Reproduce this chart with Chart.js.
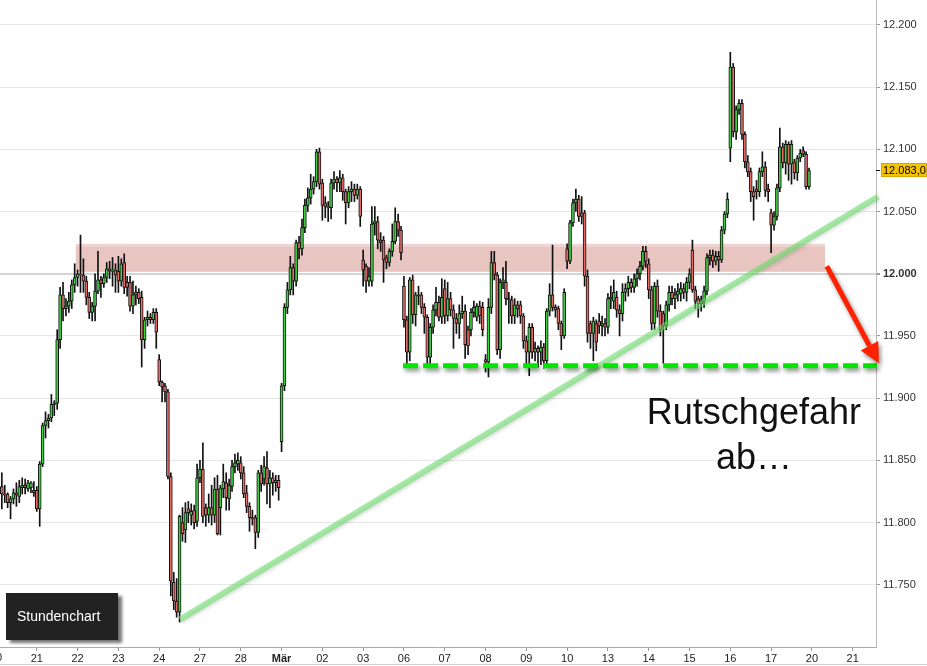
<!DOCTYPE html>
<html><head><meta charset="utf-8">
<script src="https://cdn.jsdelivr.net/npm/chart.js@4.4.1/dist/chart.umd.min.js"></script>
<style>html,body{margin:0;padding:0;background:#fff;}canvas{display:block;}</style>
</head><body>
<canvas id="c" width="927" height="666"></canvas>
<script>
// ---- tick labels (one per trading day, 14 hourly slots per day) ----
const dayLabels = ['20','21','22','23','24','27','28','Mär','02','03','06','07','08','09','10','13','14','15','16','17','20','21'];
const yTicks = [11750,11800,11850,11900,11950,12000,12050,12100,12150,12200];
const slotsPerDay = 14;
const firstDayStartSlot = 2;
const lastPrice = 12083;

// ---- hourly candles [open, high, low, close] per day ----
const feb20 = [[11829,11840,11811,11823],[11823,11830,11816,11822],[11823,11824,11812,11816],[11816,11821,11803,11819],[11819,11827,11815,11824],[11824,11832,11813,11822],[11821,11834,11816,11829],[11828,11836,11823,11830],[11830,11835,11823,11828],[11827,11834,11825,11832],[11828,11833,11824,11832],[11826,11833,11821,11824]];
const feb21 = [[11826,11829,11809,11811],[11811,11849,11797,11847],[11847,11880,11845,11878],[11878,11889,11868,11882],[11882,11887,11876,11884],[11884,11903,11881,11895],[11895,11898,11886,11896],[11896,11955,11891,11947],[11947,11989,11940,11983],[11983,11993,11962,11972],[11972,11980,11966,11974],[11974,11985,11969,11978],[11978,11995,11972,11991],[11991,12008,11985,11997]];
const feb22 = [[11997,12003,11990,12000],[12000,12031,11985,11999],[11999,12012,11985,11994],[11994,11998,11975,11981],[11981,11985,11964,11969],[11969,11977,11962,11974],[11974,12000,11962,11986],[11986,12018,11984,11995],[11995,11998,11981,11992],[11992,12000,11989,11997],[11997,12009,11993,12004],[12004,12010,11996,12002],[12002,12013,11990,12003],[12003,12008,11985,11999]];
const feb23 = [[12002,12014,11985,11994],[11994,12012,11990,12008],[12009,12016,11984,11989],[11993,11998,11982,11989],[11993,11998,11970,11974],[11974,11994,11968,11983],[11983,11990,11975,11985],[11985,11988,11976,11980],[11981,11986,11925,11947],[11947,11965,11940,11963],[11963,11970,11958,11965],[11965,11968,11960,11963],[11963,11972,11960,11969],[11969,11972,11940,11953]];
const feb24 = [[11931,11935,11910,11913],[11913,11914,11897,11909],[11910,11912,11897,11905],[11905,11907,11835,11837],[11837,11840,11741,11753],[11752,11760,11730,11737],[11737,11755,11724,11728],[11728,11806,11720,11805],[11800,11812,11785,11791],[11794,11816,11784,11808],[11811,11817,11800,11808],[11806,11815,11798,11809],[11810,11814,11795,11800],[11801,11847,11797,11836]];
const feb27 = [[11836,11850,11832,11843],[11843,11864,11800,11805],[11812,11815,11797,11806],[11806,11823,11800,11812],[11812,11830,11798,11806],[11806,11836,11800,11827],[11827,11838,11790,11791],[11812,11830,11790,11828],[11827,11847,11820,11833],[11832,11840,11810,11820],[11819,11835,11810,11830],[11829,11850,11825,11845],[11845,11855,11840,11848],[11847,11856,11842,11850]];
const feb28 = [[11848,11853,11835,11840],[11840,11845,11820,11823],[11824,11830,11808,11813],[11813,11816,11793,11804],[11804,11810,11798,11803],[11804,11806,11779,11792],[11792,11842,11788,11840],[11840,11846,11825,11831],[11835,11853,11830,11845],[11844,11857,11815,11831],[11831,11842,11812,11836],[11836,11840,11822,11832],[11832,11838,11825,11834],[11834,11838,11818,11828]];
const mar01 = [[11865,11912,11857,11910],[11910,11976,11906,11973],[11973,11993,11968,11987],[11987,12014,11983,12005],[12005,12008,11983,11994],[11994,12027,11990,12025],[12025,12030,12012,12020],[12020,12044,12015,12037],[12037,12060,12033,12055],[12055,12069,12050,12061],[12061,12080,12056,12068],[12068,12078,12064,12074],[12074,12100,12070,12098],[12098,12101,12068,12072]];
const mar02 = [[12073,12076,12043,12055],[12057,12062,12045,12054],[12054,12058,12042,12053],[12053,12076,12044,12073],[12073,12082,12068,12076],[12076,12078,12066,12073],[12073,12083,12066,12077],[12077,12080,12059,12066],[12066,12068,12040,12057],[12057,12070,12053,12066],[12066,12074,12058,12068],[12068,12072,12058,12063],[12063,12072,12060,12068],[12068,12070,12038,12046]];
const mar03 = [[12011,12019,11990,12003],[12006,12008,11985,11994],[11994,12005,11990,11998],[11994,12054,11990,12040],[12040,12054,12031,12042],[12042,12046,12020,12027],[12027,12033,12018,12025],[12027,12030,11993,12011],[12013,12015,12004,12009],[12009,12020,12006,12018],[12018,12040,12014,12026],[12026,12053,12024,12042],[12042,12048,12030,12035],[12035,12038,12011,12017]];
const mar06 = [[11990,11998,11957,11963],[11963,11966,11925,11937],[11937,11997,11930,11995],[11995,11999,11960,11967],[11967,11985,11958,11983],[11983,11990,11975,11982],[11983,11985,11968,11973],[11973,11976,11952,11965],[11965,11967,11927,11933],[11933,11960,11927,11957],[11957,11975,11952,11971],[11971,11989,11966,11977],[11977,11982,11962,11965],[11965,11996,11960,11981]];
const mar07 = [[11988,11995,11960,11966],[11966,11993,11962,11980],[11980,11985,11966,11971],[11971,11975,11940,11964],[11964,11968,11952,11960],[11960,11975,11948,11968],[11968,11982,11964,11970],[11970,11975,11932,11943],[11955,11958,11935,11942],[11955,11972,11950,11969],[11969,11978,11965,11973],[11965,11976,11962,11974],[11974,11978,11960,11966],[11973,11977,11950,11955]];
const mar08 = [[11931,11935,11921,11929],[11929,11980,11917,11973],[11973,12018,11968,12009],[12009,12018,11995,11999],[11999,12001,11935,11939],[11939,11996,11932,11993],[11993,12005,11988,11995],[11993,12010,11975,11980],[11980,11985,11960,11979],[11979,11982,11960,11966],[11966,11980,11960,11975],[11975,11978,11965,11972],[11975,11978,11960,11966],[11966,11968,11940,11946]];
const mar09 = [[11946,11950,11925,11937],[11937,11960,11918,11957],[11957,11960,11932,11937],[11937,11945,11930,11940],[11940,11942,11925,11937],[11937,11946,11927,11941],[11941,11944,11924,11930],[11930,11972,11926,11970],[11970,11992,11966,11983],[11983,12023,11970,11973],[11973,11975,11965,11971],[11972,11974,11955,11960],[11960,11962,11939,11950],[11950,11988,11948,11985]];
const mar10 = [[12020,12024,12004,12010],[12010,12043,12008,12041],[12041,12060,12038,12057],[12057,12068,12050,12060],[12060,12063,12042,12046],[12049,12062,12040,12046],[12049,12051,11990,11998],[11998,12003,11945,11952],[11960,11962,11940,11952],[11952,11965,11930,11962],[11960,11963,11938,11945],[11962,11968,11952,11958],[11958,11966,11950,11960],[11960,11964,11950,11957]];
const mar13 = [[11957,11984,11952,11980],[11980,11990,11972,11981],[11978,11995,11972,11985],[11981,11986,11965,11971],[11971,11975,11950,11968],[11968,11992,11962,11985],[11985,11992,11978,11988],[11988,11998,11982,11993],[11993,11996,11985,11989],[11989,12000,11985,11996],[11996,12004,11990,12000],[12000,12010,11995,12006],[12006,12022,12003,12018],[12018,12022,12005,12010]];
const mar14 = [[12008,12012,11980,11987],[11987,11990,11955,11960],[11960,11993,11955,11990],[11990,11995,11965,11970],[11970,11975,11950,11955],[11968,11970,11928,11958],[11958,11978,11955,11975],[11975,11990,11970,11985],[11985,11990,11975,11980],[11980,11988,11972,11983],[11983,11992,11978,11986],[11984,11993,11978,11988],[11988,11992,11980,11985],[11985,11997,11978,11993]];
const mar15 = [[11993,12004,11988,12000],[12019,12027,11985,11987],[11987,11990,11972,11978],[11980,11982,11965,11976],[11976,11982,11970,11978],[11978,11990,11973,11986],[11986,12016,11983,12013],[12013,12019,12007,12015],[12015,12019,12005,12010],[12010,12018,12007,12014],[12014,12018,12002,12011],[12011,12038,12009,12035],[12035,12050,12032,12048],[12048,12065,12045,12060]];
const mar16 = [[12101,12178,12090,12166],[12166,12169,12110,12114],[12114,12135,12108,12132],[12132,12140,12128,12137],[12137,12140,12108,12112],[12112,12114,12085,12090],[12090,12095,12078,12082],[12082,12085,12058,12066],[12066,12070,12043,12062],[12068,12075,12060,12066],[12066,12085,12062,12082],[12082,12098,12078,12086],[12086,12090,12062,12067],[12068,12072,12058,12066]];
const mar17 = [[12049,12052,12017,12039],[12039,12050,12035,12046],[12046,12072,12043,12069],[12069,12117,12066,12102],[12102,12105,12085,12089],[12089,12107,12080,12104],[12104,12106,12075,12088],[12088,12107,12072,12104],[12090,12092,12076,12081],[12081,12095,12075,12093],[12093,12100,12090,12097],[12099,12102,12094,12096],[12096,12098,12068,12070],[12070,12085,12068,12083]];
const days = [feb20,feb21,feb22,feb23,feb24,feb27,feb28,mar01,mar02,mar03,mar06,mar07,mar08,mar09,mar10,mar13,mar14,mar15,mar16,mar17];

// ---- drawn annotations, in chart units (slot index, index points) ----
const resistanceZone = {from:27.4, to:284.5, low:12001.5, high:12024};
const trendLine = [[63.1,11722],[302.7,12062]];
const supportLine = {from:139.7, to:302.3, level:11926};
const arrowLine = [[285.1,12006],[303.0,11928]];
const noteLines = ['Rutschgefahr','ab…'];
const notePos = {slot:260.1, v1:11879, v2:11843};
const badgeText = 'Stundenchart';

// ---- build datasets ----
const GREEN = '#3fd03f', RED = '#e46a66';
const bodies = [], wicks = [], bodyColors = [];
days.forEach((arr, d) => {
  const start = d === 0 ? firstDayStartSlot : 0;
  arr.forEach((c, k) => {
    const g = d * slotsPerDay + start + k;
    const [o, h, l, cl] = c;
    wicks.push({x:g, y:[l, h]});
    bodies.push({x:g, y:[Math.min(o, cl), Math.max(o, cl)]});
    bodyColors.push(cl >= o ? GREEN : RED);
  });
});

function fmt(v){ return String(Math.round(v)).replace(/\B(?=(\d{3})+(?!\d))/g, '.'); }
const FONT = '"Liberation Sans", Arial, Helvetica, sans-serif';
Chart.defaults.font.family = FONT;

const annot = {
  id:'annot',
  beforeDatasetsDraw(chart){
    const {ctx, scales:{x, y}} = chart;
    ctx.save();
    const x0 = x.getPixelForValue(resistanceZone.from), x1 = x.getPixelForValue(resistanceZone.to);
    const y0 = y.getPixelForValue(resistanceZone.high), y1 = y.getPixelForValue(resistanceZone.low);
    ctx.fillStyle = 'rgba(200,110,102,0.40)';
    ctx.fillRect(x0, y0, x1 - x0, y1 - y0);
    ctx.fillStyle = 'rgba(255,255,255,0.25)';
    ctx.fillRect(x0, y0, x1 - x0, 3);
    ctx.restore();
  },
  afterDatasetsDraw(chart){
    const {ctx, scales:{x, y}} = chart;
    const P = (g, v) => [x.getPixelForValue(g), y.getPixelForValue(v)];
    ctx.save();
    let a = P(...trendLine[0]), b = P(...trendLine[1]);
    ctx.shadowColor = 'rgba(0,0,0,0.18)'; ctx.shadowBlur = 3; ctx.shadowOffsetX = 1; ctx.shadowOffsetY = 2;
    ctx.strokeStyle = 'rgba(110,222,110,0.6)'; ctx.lineWidth = 6; ctx.lineCap = 'butt';
    ctx.beginPath(); ctx.moveTo(...a); ctx.lineTo(...b); ctx.stroke();
    ctx.shadowColor = 'rgba(0,0,0,0.45)'; ctx.shadowBlur = 4; ctx.shadowOffsetX = 2; ctx.shadowOffsetY = 3;
    a = P(supportLine.from, supportLine.level); b = P(supportLine.to, supportLine.level);
    ctx.strokeStyle = '#00e600'; ctx.lineWidth = 5; ctx.setLineDash([15, 5]);
    ctx.beginPath(); ctx.moveTo(...a); ctx.lineTo(...b); ctx.stroke();
    ctx.setLineDash([]);
    a = P(...arrowLine[0]); b = P(...arrowLine[1]);
    const ang = Math.atan2(b[1] - a[1], b[0] - a[0]);
    const head = 20, hw = 10;
    const bx = b[0] - Math.cos(ang) * head, by = b[1] - Math.sin(ang) * head;
    ctx.strokeStyle = '#ff2200'; ctx.fillStyle = '#ff2200'; ctx.lineWidth = 5;
    ctx.beginPath(); ctx.moveTo(...a); ctx.lineTo(bx, by); ctx.stroke();
    ctx.beginPath(); ctx.moveTo(...b);
    ctx.lineTo(bx + Math.sin(ang) * hw, by - Math.cos(ang) * hw);
    ctx.lineTo(bx - Math.sin(ang) * hw, by + Math.cos(ang) * hw);
    ctx.closePath(); ctx.fill();
    ctx.restore();
    ctx.save();
    ctx.fillStyle = '#111'; ctx.font = '36px ' + FONT; ctx.textAlign = 'center'; ctx.textBaseline = 'alphabetic';
    const tx = x.getPixelForValue(notePos.slot);
    ctx.fillText(noteLines[0], tx, y.getPixelForValue(notePos.v1));
    ctx.fillText(noteLines[1], tx, y.getPixelForValue(notePos.v2));
    ctx.restore();
    ctx.save();
    ctx.fillStyle = '#fff'; ctx.fillRect(2, 589, 122, 55);
    ctx.shadowColor = 'rgba(0,0,0,0.55)'; ctx.shadowBlur = 3; ctx.shadowOffsetX = 4; ctx.shadowOffsetY = 3;
    ctx.fillStyle = '#222'; ctx.fillRect(6, 593, 112, 47);
    ctx.shadowColor = 'transparent';
    ctx.fillStyle = '#fff'; ctx.font = '14px ' + FONT; ctx.textAlign = 'left'; ctx.textBaseline = 'middle';
    ctx.fillText(badgeText, 17, 617);
    ctx.restore();
  },
  afterDraw(chart){
    const {ctx, scales:{x, y}, chartArea} = chart;
    ctx.save();
    const py = Math.round(y.getPixelForValue(lastPrice));
    ctx.fillStyle = '#111'; ctx.fillRect(chartArea.right, py, 4, 1);
    ctx.fillStyle = '#f5c400'; ctx.fillRect(881, py - 7, 46, 14);
    ctx.strokeStyle = '#d9a900'; ctx.lineWidth = 1; ctx.strokeRect(881.5, py - 6.5, 45, 13);
    ctx.fillStyle = '#000'; ctx.font = '11px ' + FONT; ctx.textAlign = 'left'; ctx.textBaseline = 'middle';
    ctx.fillText(fmt(lastPrice) + ',0', 883, py + 0.5);
    ctx.fillStyle = '#222'; ctx.textAlign = 'center';
    ctx.fillText(dayLabels[0], x.getPixelForValue(0), 658);
    ctx.fillStyle = '#cfcfcf'; ctx.fillRect(0, 664, 927, 1);
    ctx.restore();
  }
};

new Chart(document.getElementById('c'), {
  type:'bar',
  data:{ datasets:[
    {label:'body', data:bodies, backgroundColor:bodyColors, borderColor:'#111', borderWidth:1, borderSkipped:false,
     barThickness:3, grouped:false, minBarLength:1, order:0},
    {label:'wick', data:wicks, backgroundColor:'#111', borderWidth:0, barThickness:1, grouped:false, order:1}
  ]},
  options:{
    responsive:false, animation:false, devicePixelRatio:1,
    layout:{padding:0},
    plugins:{legend:{display:false}, tooltip:{enabled:false}},
    scales:{
      x:{type:'linear', min:1.373, max:302.0, offset:false,
        grid:{drawOnChartArea:false, drawTicks:true, tickLength:4, tickColor:'#999', offset:false},
        border:{color:'#aaa'},
        ticks:{autoSkip:false, maxRotation:0, padding:1, color:'#222',
          font:(c) => ({size:11, weight: (c.tick && c.tick.label === 'Mär') ? 'bold' : 'normal'}),
          callback:(v) => dayLabels[Math.round(v / slotsPerDay)]},
        afterBuildTicks(s){ s.ticks = dayLabels.map((l, i) => ({value:i * slotsPerDay})).filter(t => t.value >= s.min && t.value <= s.max); },
        afterFit(s){ s.height = 19; s.paddingLeft = 0; s.paddingRight = 0; }
      },
      y:{position:'right', min:11700, max:12220,
        grid:{color:(c) => (c.tick && c.tick.value === 12000) ? '#d4d4d4' : '#e6e6e6',
              lineWidth:(c) => (c.tick && c.tick.value === 12000) ? 2 : 1,
              drawTicks:true, tickLength:4, tickColor:'#999', offset:false},
        border:{color:'#bbb'},
        ticks:{padding:3, color:'#333',
          font:(c) => ({size:11, weight: (c.tick && c.tick.value === 12000) ? 'bold' : 'normal'}),
          callback:(v) => fmt(v)},
        afterBuildTicks(s){ s.ticks = yTicks.map(v => ({value:v})); },
        afterFit(s){ s.width = 51; s.paddingTop = 0; s.paddingBottom = 0; }
      }
    }
  },
  plugins:[annot]
});
</script>
</body></html>
